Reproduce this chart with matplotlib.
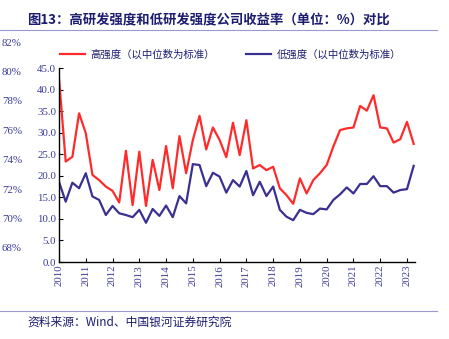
import numpy as np
import matplotlib
matplotlib.use('Agg')
import matplotlib.pyplot as plt
from matplotlib.lines import Line2D

plt.rcParams['font.family'] = ['Noto Sans CJK SC', 'DejaVu Sans']

# quarterly points, 2010Q1 .. 2023Q2
years = [2010 + 0.25 * i for i in range(54)]
high_rd = [42.6, 23.3, 24.4, 34.5, 29.9, 20.2, 19.0, 17.5, 16.5, 13.8, 25.8, 13.2,
           25.6, 13.0, 23.7, 16.7, 26.9, 17.1, 29.2, 20.6, 28.3, 33.9, 26.1, 31.2,
           28.3, 24.3, 32.3, 24.8, 32.9, 21.7, 22.5, 21.3, 22.1, 17.1, 15.5, 13.5,
           19.4, 15.9, 19.0, 20.6, 22.5, 26.8, 30.6, 31.0, 31.2, 36.2, 35.1, 38.7,
           31.2, 31.0, 27.7, 28.5, 32.5, 27.4]
low_rd = [18.6, 14.0, 18.4, 17.1, 20.6, 15.2, 14.4, 10.9, 13.0, 11.3, 10.9, 10.4,
          12.1, 9.1, 12.3, 10.7, 13.1, 10.4, 15.3, 13.6, 22.7, 22.5, 17.6, 20.7,
          19.8, 16.1, 19.0, 17.5, 21.1, 15.5, 18.6, 15.3, 17.5, 12.1, 10.5, 9.7,
          12.1, 11.4, 11.1, 12.4, 12.2, 14.4, 15.7, 17.3, 15.9, 18.1, 18.1, 19.9,
          17.6, 17.6, 16.1, 16.7, 16.9, 22.3]
year_ticks = list(range(2010, 2024))
left_ticks = [0, 5, 10, 15, 20, 25, 30, 35, 40, 45]
pct_ticks = [68, 70, 72, 74, 76, 78, 80, 82]

navy = '#1c1c70'
tick_col = '#3a3a9a'
red = '#ff2b2b'
blue = '#3a3090'
serif = ['Liberation Serif', 'DejaVu Serif']

fig = plt.figure(figsize=(4.49, 3.39), dpi=100)

# leftover percent axis on the far left
ax2 = fig.add_axes([0.052, 0.2693, 0.001, 0.6059])
ax2.set_ylim(68, 82)
ax2.set_yticks(pct_ticks)
ax2.set_yticklabels(['%d%%' % t for t in pct_ticks], family=serif, fontsize=7.8, color=tick_col)
ax2.set_xticks([])
for s in ax2.spines.values():
    s.set_visible(False)
ax2.tick_params(axis='y', length=0, pad=1)
ax2.patch.set_alpha(0)

ax = fig.add_axes([0.1314, 0.2271, 0.7929, 0.5723])
ax.plot(years, high_rd, color=red, lw=1.6, solid_joinstyle='round')
ax.plot(years, low_rd, color=blue, lw=1.6, solid_joinstyle='round')
ax.set_xlim(2010, 2023.3)
ax.set_ylim(0, 45)
ax.set_yticks(left_ticks)
ax.set_yticklabels(['%.1f' % t for t in left_ticks], family=serif, fontsize=7.8, color=tick_col)
ax.set_xticks(year_ticks)
ax.set_xticklabels([str(y) for y in year_ticks], family=serif, fontsize=7.8, color=tick_col, rotation=90)
ax.spines['top'].set_visible(False)
ax.spines['right'].set_visible(False)
ax.spines['left'].set_linewidth(1.0)
ax.spines['bottom'].set_linewidth(1.0)
ax.tick_params(direction='in', length=3, width=0.8, pad=2)

handles = [Line2D([], [], color=red, lw=1.6), Line2D([], [], color=blue, lw=1.6)]
ax.legend(handles, ['高强度（以中位数为标准）', '低强度（以中位数为标准）'], ncol=2,
          loc='lower left', bbox_to_anchor=(-0.02, 1.0), frameon=False, fontsize=7.5,
          handlelength=2.4, handletextpad=0.5, columnspacing=3.0, borderaxespad=0.4,
          labelcolor=navy)

fig.text(0.06, 0.94, '图13：高研发强度和低研发强度公司收益率（单位：%）对比',
         fontsize=9.6, fontweight='bold', color=navy, va='center')
fig.add_artist(Line2D([0, 0.973], [0.911, 0.911], color='#9a9ad0', lw=0.8))
fig.add_artist(Line2D([0, 0.973], [0.083, 0.083], color='#9a9ad0', lw=0.8))
fig.text(0.06, 0.05, '资料来源：Wind、中国银河证券研究院', fontsize=8.5,
         style='italic', color=navy, va='center')

fig.savefig('out.png', dpi=100)
